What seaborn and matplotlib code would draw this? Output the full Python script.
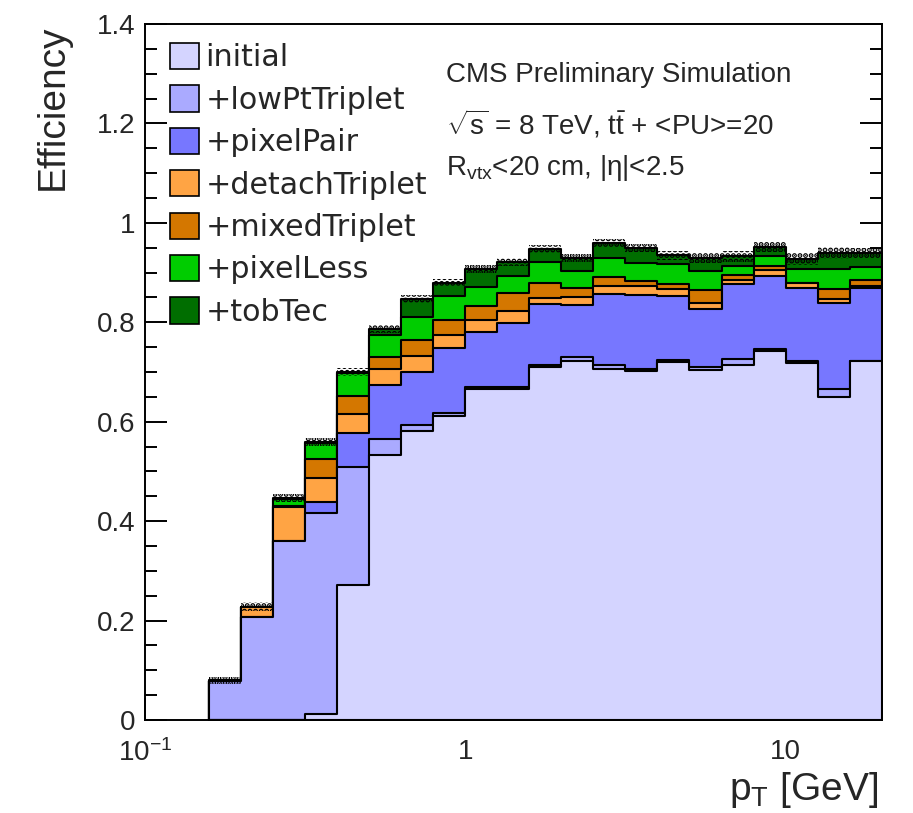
import numpy as np
import pandas as pd
import matplotlib
matplotlib.use("Agg")
import matplotlib.pyplot as plt
import seaborn as sns
from matplotlib.patches import Patch
from matplotlib.ticker import FixedLocator, FixedFormatter, NullFormatter, MultipleLocator, LogLocator

# ---------------- data ----------------
pt_centers = [0.178, 0.224, 0.282, 0.355, 0.447, 0.562, 0.708, 0.891, 1.12, 1.41, 1.78,
              2.24, 2.82, 3.55, 4.47, 5.62, 7.08, 8.91, 11.2, 14.1, 17.8]
log_bin_range = (-0.8, 1.3)
n_bins = 21

eff_initial = [0.0, 0.0, 0.0, 0.012, 0.272, 0.534, 0.582, 0.612, 0.665, 0.665, 0.710,
               0.723, 0.706, 0.702, 0.720, 0.705, 0.715, 0.742, 0.718, 0.649, 0.722]
eff_lowPtTriplet = [0.079, 0.208, 0.361, 0.416, 0.508, 0.566, 0.594, 0.618, 0.669, 0.669, 0.715,
                    0.730, 0.715, 0.707, 0.724, 0.710, 0.727, 0.747, 0.723, 0.665, 0.722]
eff_pixelPair = [0.079, 0.208, 0.361, 0.439, 0.577, 0.673, 0.700, 0.749, 0.781, 0.799, 0.836,
                 0.835, 0.857, 0.854, 0.853, 0.826, 0.878, 0.893, 0.868, 0.838, 0.869]
eff_detachTriplet = [0.079, 0.227, 0.428, 0.487, 0.616, 0.706, 0.732, 0.775, 0.805, 0.822, 0.849,
                     0.851, 0.873, 0.873, 0.867, 0.839, 0.885, 0.906, 0.880, 0.846, 0.873]
eff_mixedTriplet = [0.079, 0.227, 0.430, 0.526, 0.651, 0.730, 0.765, 0.804, 0.832, 0.858, 0.880,
                    0.868, 0.891, 0.884, 0.878, 0.864, 0.896, 0.914, 0.880, 0.867, 0.885]
eff_pixelLess = [0.079, 0.228, 0.445, 0.557, 0.698, 0.775, 0.810, 0.853, 0.871, 0.894, 0.921,
                 0.904, 0.930, 0.920, 0.918, 0.903, 0.914, 0.933, 0.908, 0.908, 0.912]
eff_tobTec = [0.080, 0.228, 0.446, 0.559, 0.700, 0.786, 0.847, 0.880, 0.907, 0.921, 0.947,
              0.930, 0.960, 0.950, 0.935, 0.930, 0.933, 0.951, 0.928, 0.940, 0.940]
err_tobTec = [0.007, 0.009, 0.008, 0.008, 0.009, 0.008, 0.008, 0.008, 0.008, 0.008, 0.008,
              0.008, 0.008, 0.008, 0.009, 0.010, 0.011, 0.010, 0.012, 0.012, 0.010]

series_names = ["initial", "+lowPtTriplet", "+pixelPair", "+detachTriplet",
                "+mixedTriplet", "+pixelLess", "+tobTec"]
series_values = [eff_initial, eff_lowPtTriplet, eff_pixelPair, eff_detachTriplet,
                 eff_mixedTriplet, eff_pixelLess, eff_tobTec]
series_colors = ["#d4d4ff", "#aaaaff", "#7777ff", "#ffa444", "#d47700", "#00cc00", "#006e00"]

x_tick_values = [0.1, 1, 10]
x_tick_labels = ["$10^{-1}$", "1", "10"]
y_tick_values = [0, 0.2, 0.4, 0.6, 0.8, 1, 1.2, 1.4]
y_tick_labels = ["0", "0.2", "0.4", "0.6", "0.8", "1", "1.2", "1.4"]

df = pd.DataFrame({"pt": pt_centers})
for name, vals in zip(series_names, series_values):
    df[name] = vals

# ---------------- style ----------------
sns.set_style("ticks")
plt.rcParams["font.family"] = ["Liberation Sans", "DejaVu Sans"]
plt.rcParams["mathtext.fontset"] = "custom"
plt.rcParams["mathtext.rm"] = "Liberation Sans"
plt.rcParams["mathtext.it"] = "Liberation Sans:italic"
plt.rcParams["mathtext.bf"] = "Liberation Sans:bold"
plt.rcParams["axes.unicode_minus"] = False
plt.rcParams["hatch.linewidth"] = 2.6
plt.rcParams["hatch.color"] = "black"

fig = plt.figure(figsize=(9.13, 8.13), dpi=100)
ax = fig.add_axes([145 / 913, 93 / 813, 737 / 913, 696 / 813])

# draw from the outermost cumulative efficiency to the innermost
for name, color in reversed(list(zip(series_names, series_colors))):
    sns.histplot(data=df, x="pt", weights=name, bins=n_bins, binrange=log_bin_range,
                 log_scale=True, element="step", fill=True, color=color, alpha=1,
                 edgecolor="black", linewidth=1.5, ax=ax)

# statistical error band on the final efficiency (dotted pattern)
edges = 10 ** np.linspace(log_bin_range[0], log_bin_range[1], n_bins + 1)
top = np.array(eff_tobTec)
err = np.array(err_tobTec)
lo = np.append(top - err, top[-1] - err[-1])
hi = np.append(top + err, top[-1] + err[-1])
ax.fill_between(edges, lo, hi, step="post", facecolor="none", edgecolor="black",
                hatch="...", linewidth=0)

ax.set_xscale("log")
ax.set_xlim(0.1, 20)
ax.set_ylim(0, 1.4)

# ticks
ax.xaxis.set_major_locator(FixedLocator(x_tick_values))
ax.xaxis.set_major_formatter(FixedFormatter(x_tick_labels))
ax.xaxis.set_minor_locator(LogLocator(base=10, subs=np.arange(2, 10)))
ax.xaxis.set_minor_formatter(NullFormatter())
ax.yaxis.set_major_locator(FixedLocator(y_tick_values))
ax.yaxis.set_major_formatter(FixedFormatter(y_tick_labels))
ax.yaxis.set_minor_locator(MultipleLocator(0.05))
ax.tick_params(axis="both", which="major", direction="in", length=16, width=1.4,
               labelsize=20, color="black")
ax.tick_params(axis="both", which="minor", direction="in", length=8.5, width=1.4,
               color="black")
ax.tick_params(axis="x", which="both", top=False, pad=14)
ax.tick_params(axis="y", which="both", right=True, pad=7)
for s in ax.spines.values():
    s.set_linewidth(1.4)
    s.set_color("black")
    s.set_visible(True)
    s.set_zorder(10)

ax.set_xlabel("p$_{\\mathrm{T}}$ [GeV]", fontsize=28, loc="right")
ax.xaxis.set_label_coords(0.995, -0.072)
ax.set_ylabel("Efficiency", fontsize=28, loc="top")
ax.yaxis.set_label_coords(-0.101, 1.0)

# legend
handles = [Patch(facecolor=c, edgecolor="black", linewidth=1.2) for c in series_colors]
leg = fig.legend(handles, series_names, loc="upper left",
                 bbox_to_anchor=(170 / 913, 1 - 43 / 813), frameon=False,
                 prop={"family": "DejaVu Sans", "size": 21.7},
                 handlelength=0.96, handleheight=0.96, handletextpad=0.22,
                 labelspacing=0.43, borderpad=0, borderaxespad=0)

# annotations
fig.text(446 / 913, 1 - 82 / 813, "CMS Preliminary Simulation", fontsize=20,
         ha="left", va="baseline")
fig.text(446 / 913, 1 - 135 / 813,
         "$\\sqrt{\\mathrm{s}}$ = 8 TeV, $\\mathrm{t\\bar{t}}$ + <PU>=20", fontsize=20,
         ha="left", va="baseline")
fig.text(446 / 913, 1 - 175 / 813, "R$_{\\mathrm{vtx}}$<20 cm, |η|<2.5", fontsize=20,
         ha="left", va="baseline")

fig.savefig("out.png", dpi=100)
